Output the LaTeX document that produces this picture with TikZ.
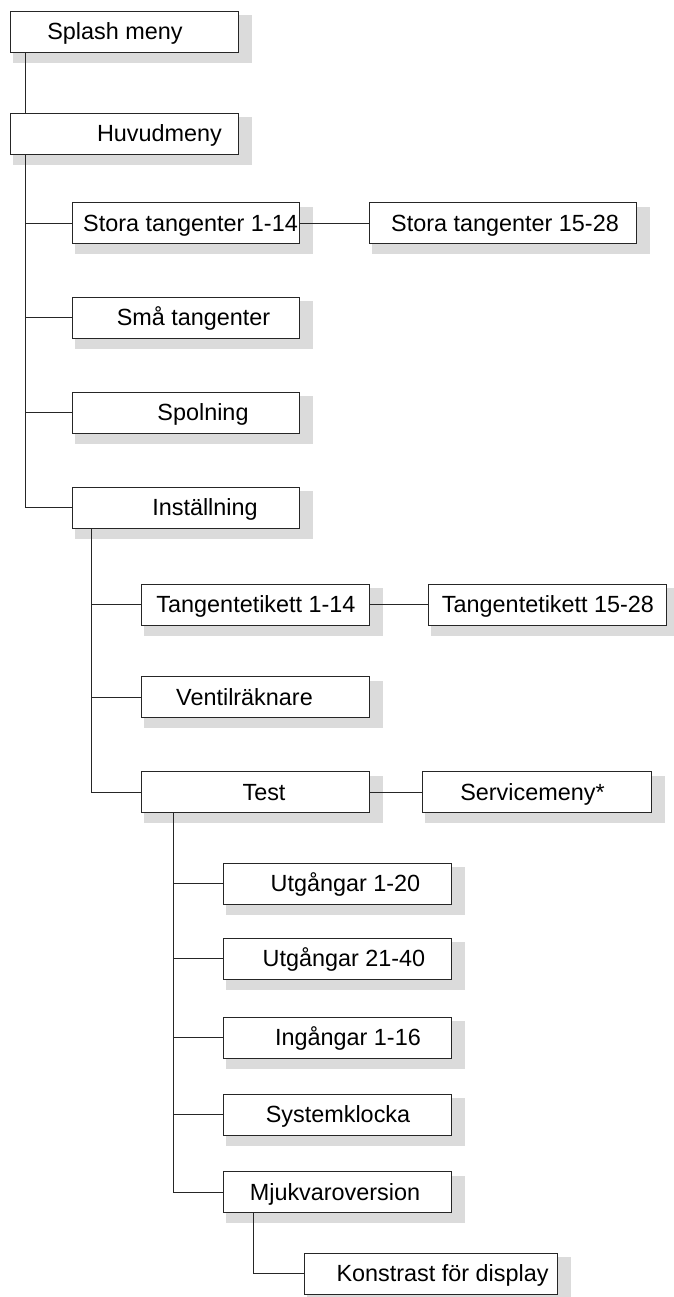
\documentclass[tikz,border=0pt]{standalone}
\usepackage{fontspec}
\setmainfont{Liberation Sans}
\usetikzlibrary{calc,backgrounds}

\tikzset{
	menubox/.style={draw=black!85, line width=0.5pt, fill=white, inner sep=0pt, minimum height=20.5pt},
	menutext/.style={font=\fontsize{11.7}{14}\selectfont, inner sep=0pt, text height=8.4pt, text depth=0pt},
	boxshadow/.style={fill=black!14},
	wire/.style={draw=black!85, line width=0.5pt}
}

\begin{document}
\begin{tikzpicture}[x=0.5pt, y=-0.5pt]
				\useasboundingbox (0,0) rectangle (674,1297);
				% Menu boxes:
				\node[menubox, minimum width=114pt, label={[menutext, xshift=-4.5pt]center:Splash meny}] (splash) at (124, 31.5){};
				\node[menubox, minimum width=114pt, label={[menutext, xshift=17.75pt]center:Huvudmeny}] (huvud) at (124, 133.5){};
				\node[menubox, minimum width=113.5pt, label={[menutext, xshift=2.5pt]center:Stora tangenter 1-14}] (stora1) at (185.5, 223){};
				\node[menubox, minimum width=133.5pt, label={[menutext, xshift=1.25pt]center:Stora tangenter 15-28}] (stora2) at (502.5, 223){};
				\node[menubox, minimum width=113.5pt, label={[menutext, xshift=4pt]center:Små tangenter}] (sma) at (185.5, 317.5){};
				\node[menubox, minimum width=113.5pt, label={[menutext, xshift=8.75pt]center:Spolning}] (spol) at (185.5, 412.5){};
				\node[menubox, minimum width=113.5pt, label={[menutext, xshift=9.75pt]center:Inställning}] (inst) at (185.5, 507.5){};
				\node[menubox, minimum width=114pt, label={[menutext, xshift=0.5pt]center:Tangentetikett 1-14}] (tang1) at (255, 604.5){};
				\node[menubox, minimum width=119pt, label={[menutext, xshift=0.5pt]center:Tangentetikett 15-28}] (tang2) at (547, 604.5){};
				\node[menubox, minimum width=114pt, label={[menutext, xshift=-5.25pt]center:Ventilräknare}] (ventil) at (255, 697){};
				\node[menubox, minimum width=114pt, label={[menutext, xshift=4.5pt]center:Test}] (test) at (255, 792){};
				\node[menubox, minimum width=114.5pt, label={[menutext, xshift=-2pt]center:Servicemeny*}] (service) at (536.5, 792){};
				\node[menubox, minimum width=114pt, label={[menutext, xshift=4.25pt]center:Utgångar 1-20}] (utg1) at (337, 883.5){};
				\node[menubox, minimum width=114pt, label={[menutext, xshift=3.5pt]center:Utgångar 21-40}] (utg2) at (337, 958.5){};
				\node[menubox, minimum width=114pt, label={[menutext, xshift=5.5pt]center:Ingångar 1-16}] (ing) at (337, 1037.5){};
				\node[menubox, minimum width=114pt, label={[menutext, xshift=0.5pt]center:Systemklocka}] (sys) at (337, 1114.5){};
				\node[menubox, minimum width=114pt, label={[menutext, xshift=-1pt]center:Mjukvaroversion}] (mjuk) at (337, 1192){};
				\node[menubox, minimum width=126.5pt, label={[menutext, xshift=6pt]center:Konstrast för display}] (konst) at (430.5, 1273.5){};
				% Shadows behind the boxes:
				\begin{scope}[on background layer]
					\foreach \n in {splash, huvud, stora1, stora2, sma, spol, inst, tang1, tang2, ventil, test, service, utg1, utg2, ing, sys, mjuk, konst}
						\fill[boxshadow] ($(\n.north west)+(3,4.5)$) rectangle ($(\n.south east)+(13.5,10)$);
				\end{scope}
				% Wires:
				\draw[wire] ($(splash.south west)+(15.7,0)$) -- ($(huvud.north west)+(15.7,0)$);
				\coordinate (hvt) at ($(huvud.south west)+(15.7,0)$);
				\draw[wire] (hvt) |- (inst.west);
				\foreach \n in {stora1, sma, spol}
					\draw[wire] (hvt |- \n.west) -- (\n.west);
				\draw[wire] (stora1.east) -- (stora2.west);
				\coordinate (ist) at ($(inst.south west)+(20,0)$);
				\draw[wire] (ist) |- (test.west);
				\foreach \n in {tang1, ventil}
					\draw[wire] (ist |- \n.west) -- (\n.west);
				\draw[wire] (tang1.east) -- (tang2.west);
				\draw[wire] (test.east) -- (service.west);
				\coordinate (tst) at ($(test.south west)+(33,0)$);
				\draw[wire] (tst) |- (mjuk.west);
				\foreach \n in {utg1, utg2, ing, sys}
					\draw[wire] (tst |- \n.west) -- (\n.west);
				\coordinate (mjt) at ($(mjuk.south west)+(31.3,0)$);
				\draw[wire] (mjt) |- (konst.west);
\end{tikzpicture}
\end{document}
